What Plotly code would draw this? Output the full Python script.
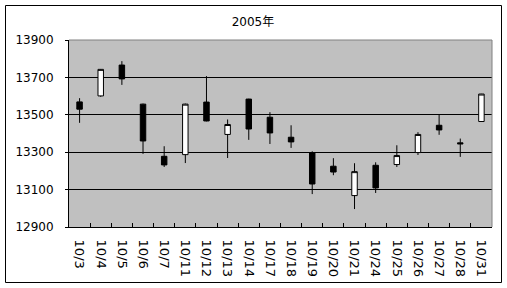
import plotly.graph_objects as go

dates = ["10/3", "10/4", "10/5", "10/6", "10/7", "10/11", "10/12", "10/13", "10/14", "10/17",
         "10/18", "10/19", "10/20", "10/21", "10/24", "10/25", "10/26", "10/27", "10/28", "10/31"]
open_ = [13569, 13601, 13766, 13557, 13278, 13287, 13568, 13395, 13584, 13487,
         13380, 13298, 13225, 13068, 13230, 13234, 13298, 13444, 13350, 13464]
high = [13589, 13745, 13787, 13560, 13332, 13560, 13707, 13475, 13586, 13514,
        13444, 13305, 13268, 13241, 13246, 13337, 13407, 13502, 13373, 13612]
low = [13457, 13596, 13660, 13291, 13221, 13242, 13465, 13269, 13366, 13344,
       13323, 13076, 13177, 12996, 13082, 13221, 13285, 13393, 13275, 13462]
close = [13530, 13743, 13692, 13360, 13232, 13557, 13467, 13448, 13424, 13403,
         13355, 13130, 13194, 13196, 13109, 13282, 13395, 13419, 13345, 13611]
y_ticks = [12900, 13100, 13300, 13500, 13700, 13900]
title_text = "2005年"

FONT = "DejaVu Sans, Noto Sans CJK JP, sans-serif"

fig = go.Figure(go.Candlestick(
    x=dates, open=open_, high=high, low=low, close=close,
    increasing=dict(fillcolor="white", line=dict(color="black", width=1)),
    decreasing=dict(fillcolor="black", line=dict(color="black", width=1)),
    whiskerwidth=0, showlegend=False,
))

L, R, T, B = 69, 15, 40, 61
W, H = 507, 288
pw, ph = W - L - R, H - T - B

fig.update_layout(
    width=W, height=H,
    margin=dict(l=L, r=R, t=T, b=B, pad=0),
    paper_bgcolor="white", plot_bgcolor="#C0C0C0",
    boxgap=0.63,
    title=dict(text=title_text, x=253 / W, xref="container", xanchor="center",
               y=1 - 22 / H, yref="container", yanchor="middle",
               font=dict(family=FONT, size=12, color="black")),
    xaxis=dict(type="category", rangeslider=dict(visible=False),
               showgrid=False, showline=True, linecolor="black", linewidth=1,
               ticks="inside", tickson="boundaries", ticklen=4, tickcolor="black",
               tickangle=90, ticklabelstandoff=9,
               tickfont=dict(family=FONT, size=13, color="black")),
    yaxis=dict(range=[12900, 13900], tickvals=y_ticks,
               ticktext=[str(v) for v in y_ticks],
               showgrid=True, gridcolor="black", gridwidth=1,
               showline=True, linecolor="black", linewidth=1,
               ticks="outside", ticklen=3, tickcolor="black",
               ticklabelstandoff=9, zeroline=False,
               tickfont=dict(family=FONT, size=12, color="black")),
    shapes=[
        dict(type="line", xref="paper", yref="paper", x0=0, x1=1, y0=1, y1=1,
             line=dict(color="#808080", width=1), layer="above"),
        dict(type="line", xref="paper", yref="paper", x0=1, x1=1, y0=0, y1=1,
             line=dict(color="#808080", width=1), layer="above"),
        dict(type="rect", xref="paper", yref="paper",
             x0=(5.5 - L) / pw, x1=(501.5 - L) / pw,
             y0=(H - B - 282.5) / ph, y1=(H - B - 5.5) / ph,
             line=dict(color="black", width=1), fillcolor="rgba(0,0,0,0)",
             layer="above"),
    ],
)

fig.write_html("out.html")
